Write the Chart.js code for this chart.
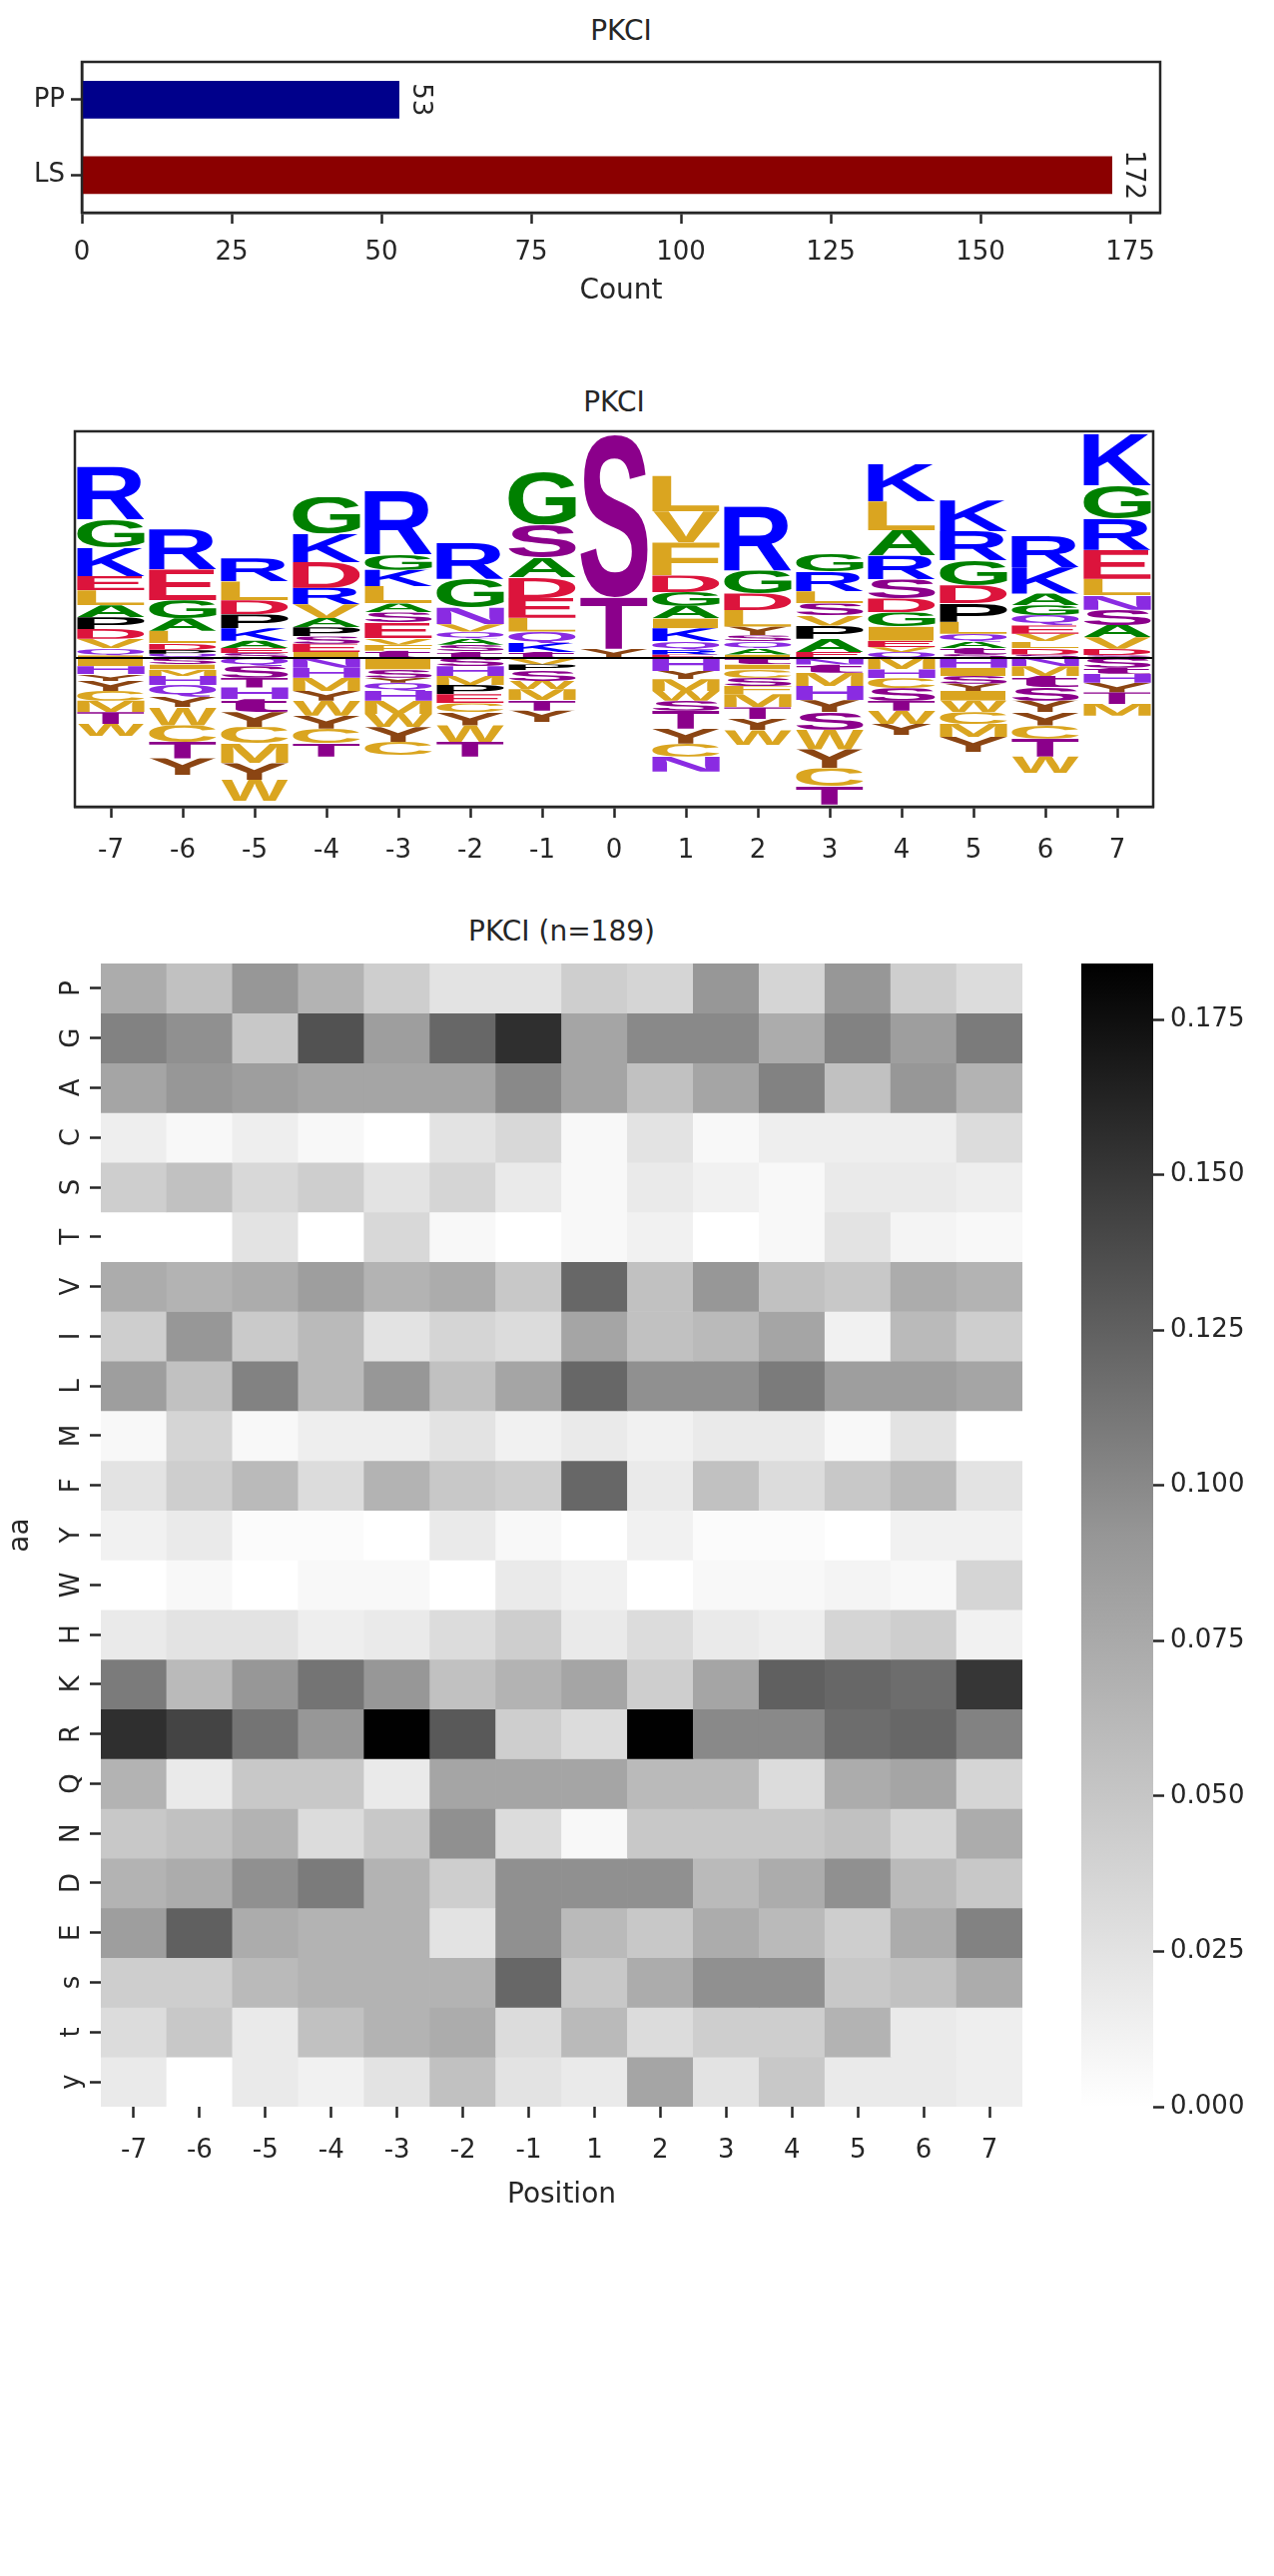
<!DOCTYPE html>
<html><head><meta charset="utf-8">
<script src="https://cdn.jsdelivr.net/npm/chart.js@4/dist/chart.umd.min.js"></script>
<style>
body{margin:0;width:1276px;height:2580px;background:#fff;position:relative;font-family:"DejaVu Sans",sans-serif;color:#262626}
canvas{position:absolute}
.t{position:absolute;left:0;width:1276px;text-align:center;font-size:28px;color:#262626}
</style></head><body>
<div class="t" style="top:14px;left:82px;width:1080px">PKCI</div>
<canvas id="c1" style="left:0;top:0" width="1276" height="313"></canvas>
<div class="t" style="top:386px;left:75px;width:1080px">PKCI</div>
<canvas id="c2" style="left:0;top:380px" width="1276" height="500"></canvas>
<div class="t" style="top:916px;left:101px;width:923px">PKCI (n=189)</div>
<canvas id="c3" style="left:0;top:900px" width="1060" height="1320"></canvas>
<canvas id="c4" style="left:1060px;top:900px" width="216" height="1320"></canvas>
<script>
const FONT="'DejaVu Sans'";
const TXT='#262626';
// ---- data ----
const barLabels=['PP','LS'];
const barValues=[53,172];
const barColors=['#00008b','#8b0000'];
const countTicks=[0,25,50,75,100,125,150,175];

const logoPositions=['-7','-6','-5','-4','-3','-2','-1','0','1','2','3','4','5','6','7'];
// heights, listed from the top of the stack down to zero
const logoUp=[
"R:160,G:85,K:87,E:43,L:45,A:37,P:35,D:30,V:28,Q:22,I:8",
"R:122,E:93,G:55,A:38,L:37,D:20,P:12,Q:13",
"R:70,L:57,D:43,P:42,K:38,A:22,E:15,S:15",
"G:110,K:87,D:78,R:50,V:42,A:28,P:28,S:22,E:25,I:18",
"R:193,G:48,K:49,L:53,A:27,S:30,E:48,V:20,F:18,t:22",
"R:110,G:88,N:50,V:22,Q:20,A:20,S:20,t:20",
"G:160,S:100,A:60,D:63,E:60,L:42,Q:35,K:27,t:18",
"S:493,T:155,Y:28",
"L:107,V:95,F:100,D:50,G:42,A:38,I:30,K:40,Q:25,R:15,E:10",
"R:195,G:70,D:50,L:50,Y:27,S:18,Q:20,A:20,I:10",
"G:53,R:60,L:37,S:35,V:32,P:40,A:40,E:18",
"K:115,L:87,A:78,R:72,S:58,D:42,G:43,I:43,E:20,V:14,Q:18",
"K:93,R:90,G:75,D:55,P:55,L:37,Q:23,A:20,t:18,S:12",
"R:95,K:80,A:35,G:30,Q:32,E:25,V:23,L:20,D:20,S:10",
"K:157,G:100,R:95,E:88,L:50,N:44,S:46,A:37,V:35,D:20,S:8"];
// heights, listed from zero downward
const logoDown=[
"I:25,H:25,Y:20,Y:30,C:30,M:35,T:35,W:38",
"S:20,I:15,M:20,H:27,Q:36,Y:32,W:55,C:50,T:50,Y:50",
"Q:25,S:35,T:30,H:35,t:40,Y:45,C:50,M:60,Y:50,W:65",
"N:30,H:30,M:40,Y:30,W:45,Y:40,C:45,T:40",
"I:35,S:25,Y:15,Q:25,H:30,M:40,W:40,Y:45,C:40",
"S:25,H:30,M:27,P:28,E:28,C:27,Y:40,W:50,T:45",
"V:20,P:18,S:32,W:25,M:33,T:32,Y:35",
"",
"H:40,Y:25,M:35,W:30,S:30,T:55,Y:45,C:40,N:45",
"t:20,I:15,C:25,S:25,F:25,M:40,T:35,Y:35,W:45",
"N:20,t:25,M:40,H:43,Y:37,S:53,W:60,Y:57,C:55,T:55",
"M:35,H:27,C:30,S:38,T:30,W:40,Y:35",
"H:30,I:25,S:23,Y:22,I:30,W:35,C:35,M:40,Y:45",
"N:25,M:30,t:35,S:40,Y:35,Y:40,C:40,T:55,W:50",
"S:30,t:18,H:27,Y:30,T:35,M:35"];
const letterColors={R:'#0000ff',K:'#0000ff',G:'#008000',A:'#008000',S:'#8b008b',T:'#8b008b',t:'#8b008b',s:'#8b008b',
D:'#dc143c',E:'#dc143c',L:'#daa520',V:'#daa520',I:'#daa520',M:'#daa520',F:'#daa520',W:'#daa520',C:'#daa520',
P:'#000000',N:'#8a2be2',Q:'#8a2be2',H:'#8a2be2',Y:'#8b4513',y:'#8b4513'};

const hmPositions=['-7','-6','-5','-4','-3','-2','-1','1','2','3','4','5','6','7'];
const hmRows=['P','G','A','C','S','T','V','I','L','M','F','Y','W','H','K','R','Q','N','D','E','s','t','y'];
const hmValues=[
[.06,.045,.075,.055,.035,.02,.02,.035,.03,.075,.03,.075,.035,.025],
[.09,.08,.04,.125,.07,.11,.15,.065,.085,.085,.06,.09,.07,.095],
[.065,.075,.07,.065,.065,.065,.085,.065,.045,.065,.09,.045,.075,.055],
[.012,.005,.012,.005,0,.02,.028,.005,.02,.005,.012,.012,.012,.025],
[.035,.045,.028,.035,.02,.03,.015,.005,.015,.01,.005,.015,.015,.012],
[0,0,.02,0,.028,.005,0,.005,.01,0,.005,.02,.008,.005],
[.06,.055,.06,.07,.055,.06,.04,.11,.045,.075,.045,.04,.06,.055],
[.035,.075,.038,.05,.02,.03,.025,.065,.045,.05,.065,.01,.05,.035],
[.07,.045,.09,.05,.075,.045,.065,.11,.08,.08,.095,.07,.07,.065],
[.005,.03,.005,.012,.012,.02,.01,.015,.01,.015,.015,.005,.02,0],
[.02,.035,.05,.025,.055,.04,.035,.11,.015,.045,.025,.04,.05,.02],
[.01,.015,.003,.003,0,.015,.005,0,.01,.003,.003,0,.01,.01],
[0,.005,0,.005,.005,0,.015,.01,0,.005,.005,.008,.005,.03],
[.015,.02,.02,.012,.015,.025,.035,.015,.025,.015,.012,.03,.035,.01],
[.095,.05,.075,.1,.075,.045,.055,.065,.035,.065,.115,.11,.105,.145],
[.15,.135,.1,.075,.183,.12,.035,.025,.183,.085,.085,.105,.11,.09],
[.055,.015,.04,.04,.015,.065,.065,.065,.05,.05,.025,.06,.065,.03],
[.04,.045,.055,.025,.04,.08,.025,.005,.04,.04,.04,.045,.03,.06],
[.055,.06,.08,.095,.055,.035,.08,.08,.08,.05,.06,.08,.05,.04],
[.07,.115,.06,.055,.055,.02,.08,.05,.04,.06,.05,.035,.06,.09],
[.035,.035,.05,.055,.055,.055,.11,.04,.06,.08,.08,.04,.045,.06],
[.025,.04,.015,.045,.055,.06,.025,.05,.025,.035,.035,.055,.015,.012],
[.015,0,.015,.01,.02,.045,.02,.015,.065,.02,.04,.015,.015,.012]];
const cbMax=0.184;
const cbTicks=[0,0.025,0.05,0.075,0.1,0.125,0.15,0.175];

// ---- helpers ----
Chart.defaults.font.family=FONT;
Chart.defaults.color=TXT;
Chart.defaults.animation=false;
const tickFont={size:26,family:FONT};
const tickGrid={display:true,offset:false,drawOnChartArea:false,drawTicks:true,tickLength:11,tickWidth:2.5,tickColor:TXT};
function gray(v){const t=Math.min(v/cbMax,1);const g=Math.round(255*(1-t));return `rgb(${g},${g},${g})`;}

// ---- chart 1 ----
const barLabelPlugin={id:'bl',afterDatasetsDraw(ch){
  const ctx=ch.ctx;const meta=ch.getDatasetMeta(0);
  meta.data.forEach((el,i)=>{ctx.save();ctx.translate(el.x+8,el.y);ctx.rotate(Math.PI/2);
    ctx.font='26px '+FONT;ctx.fillStyle=TXT;ctx.textAlign='center';ctx.textBaseline='bottom';
    ctx.fillText(String(barValues[i]),0,0);ctx.restore();});
}};
new Chart(document.getElementById('c1'),{type:'bar',
 data:{labels:barLabels,datasets:[{data:barValues,backgroundColor:barColors,barPercentage:0.5,categoryPercentage:1}]},
 options:{indexAxis:'y',responsive:false,layout:{padding:{top:62,right:114}},
  plugins:{legend:{display:false},tooltip:{enabled:false}},
  scales:{
   x:{min:0,max:180,afterBuildTicks(s){s.ticks=countTicks.map(v=>({value:v}));},ticks:{font:tickFont,padding:14},grid:tickGrid,
      border:{color:TXT,width:2.5},title:{display:true,text:'Count',font:{size:28},color:TXT,padding:{top:0}},
      afterFit(s){s.height=100;}},
   y:{ticks:{font:tickFont,padding:6},grid:tickGrid,border:{color:TXT,width:2.5},
      afterFit(s){s.width=82;}}
  }},
 plugins:[barLabelPlugin,{id:'box',afterDraw(ch){const a=ch.chartArea,c=ch.ctx;c.save();c.strokeStyle=TXT;c.lineWidth=2.5;c.strokeRect(a.left,a.top,a.right-a.left,a.bottom-a.top);c.restore();}}]
});

// ---- chart 2 (logo) ----
function parse(s){return s?s.split(',').map(p=>{const [l,h]=p.split(':');return [l,+h];}):[];}
const datasets2=[];
function addStack(list,sign){
  list.forEach((str,col)=>{
    let items=parse(str);
    if(sign>0) items=items.slice().reverse();
    let base=0;
    items.forEach((it,k)=>{
      const key=(sign>0?'u':'d')+k;
      let ds=datasets2.find(d=>d.key===key);
      if(!ds){ds={key,data:new Array(list.length).fill(null),letters:new Array(list.length).fill(null),
        backgroundColor:'rgba(0,0,0,0)',grouped:false,barPercentage:0.94,categoryPercentage:1};datasets2.push(ds);}
      const top=base+sign*it[1];
      ds.data[col]=[base,top];ds.letters[col]=it[0];base=top;
    });
  });
}
addStack(logoUp,1);addStack(logoDown,-1);
const letterPlugin={id:'letters',afterDatasetsDraw(ch){
  const ctx=ch.ctx;
  ch.data.datasets.forEach((ds,di)=>{
    ch.getDatasetMeta(di).data.forEach((el,i)=>{
      const L=ds.letters[i];if(!L)return;
      const x0=el.x-el.width/2,w=el.width;const y0=Math.min(el.y,el.base),h=Math.abs(el.base-el.y);
      if(h<1)return;
      ctx.save();ctx.font="bold 200px 'Liberation Sans'";
      const m=ctx.measureText(L);
      const gw=m.actualBoundingBoxLeft+m.actualBoundingBoxRight;
      const gh=m.actualBoundingBoxAscent+m.actualBoundingBoxDescent;
      ctx.beginPath();ctx.rect(x0,y0,w,h);ctx.clip();
      ctx.translate(x0,y0);ctx.scale(w/gw,h/gh);
      ctx.fillStyle=letterColors[L]||'#000';
      ctx.fillText(L,m.actualBoundingBoxLeft,m.actualBoundingBoxAscent);
      ctx.restore();
    });
  });
  const ys=ch.scales.y.getPixelForValue(0),a=ch.chartArea;
  ctx.save();ctx.strokeStyle='#000';ctx.lineWidth=2;ctx.beginPath();ctx.moveTo(a.left,ys);ctx.lineTo(a.right,ys);ctx.stroke();
  ctx.strokeStyle=TXT;ctx.lineWidth=2.5;ctx.strokeRect(a.left,a.top,a.right-a.left,a.bottom-a.top);ctx.restore();
}};
new Chart(document.getElementById('c2'),{type:'bar',
 data:{labels:logoPositions,datasets:datasets2},
 options:{responsive:false,layout:{padding:{top:52,right:121,left:0}},
  plugins:{legend:{display:false},tooltip:{enabled:false}},
  scales:{
   x:{ticks:{font:tickFont,padding:18},grid:tickGrid,border:{color:TXT,width:2.5},afterFit(s){s.height=72;}},
   y:{min:-452,max:688,display:true,ticks:{display:false},grid:{display:false,drawTicks:false},border:{display:false},afterFit(s){s.width=75;}}
  }},
 plugins:[letterPlugin]
});

// ---- chart 3 (heatmap) ----
const datasets3=hmRows.map((r,ri)=>({label:r,data:hmPositions.map(()=>[ri,ri+1]),
  backgroundColor:hmValues[ri].map(gray),grouped:false,barPercentage:1,categoryPercentage:1,borderWidth:0}));
const rowLabelPlugin={id:'rl',afterDraw(ch){
  const ctx=ch.ctx,ys=ch.scales.y,a=ch.chartArea;
  ctx.save();ctx.font='26px '+FONT;ctx.fillStyle=TXT;ctx.textAlign='center';ctx.textBaseline='bottom';
  hmRows.forEach((r,i)=>{const y=ys.getPixelForValue(i+0.5);ctx.save();ctx.translate(a.left-16,y);ctx.rotate(-Math.PI/2);ctx.fillText(r,0,0);ctx.restore();});
  ctx.restore();
}};
new Chart(document.getElementById('c3'),{type:'bar',
 data:{labels:hmPositions,datasets:datasets3},
 options:{responsive:false,layout:{padding:{top:65,right:36}},
  plugins:{legend:{display:false},tooltip:{enabled:false}},
  scales:{
   x:{ticks:{font:tickFont,padding:18},grid:tickGrid,border:{display:false},
      title:{display:true,text:'Position',font:{size:28},color:TXT,padding:{top:0}},afterFit(s){s.height=110;}},
   y:{reverse:true,min:0,max:hmRows.length,
      afterBuildTicks(s){s.ticks=hmRows.map((r,i)=>({value:i+0.5}));},
      ticks:{font:tickFont,padding:4,callback:()=>''},
      grid:tickGrid,border:{display:false},
      title:{display:true,text:'aa',font:{size:28},color:TXT,padding:{bottom:2}},afterFit(s){s.width=101;}}
  }},
 plugins:[rowLabelPlugin]
});

// ---- chart 4 (colorbar) ----
new Chart(document.getElementById('c4'),{type:'bar',
 data:{labels:['cb'],datasets:[{data:[[0,cbMax]],barPercentage:1,categoryPercentage:1,
   backgroundColor(c){const a=c.chart.chartArea;if(!a)return '#888';const g=c.chart.ctx.createLinearGradient(0,a.bottom,0,a.top);g.addColorStop(0,'#fff');g.addColorStop(0.5,'#969696');g.addColorStop(1,'#000');return g;}}]},
 options:{responsive:false,layout:{padding:{top:65,left:23,bottom:110}},
  plugins:{legend:{display:false},tooltip:{enabled:false}},
  scales:{
   x:{display:false},
   y:{position:'right',min:0,max:cbMax,afterBuildTicks(s){s.ticks=cbTicks.map(v=>({value:v}));},
      ticks:{font:tickFont,padding:6,callback:v=>v.toFixed(3)},grid:tickGrid,border:{display:false},
      afterFit(s){s.width=121;}}
  }}
});
</script></body></html>
